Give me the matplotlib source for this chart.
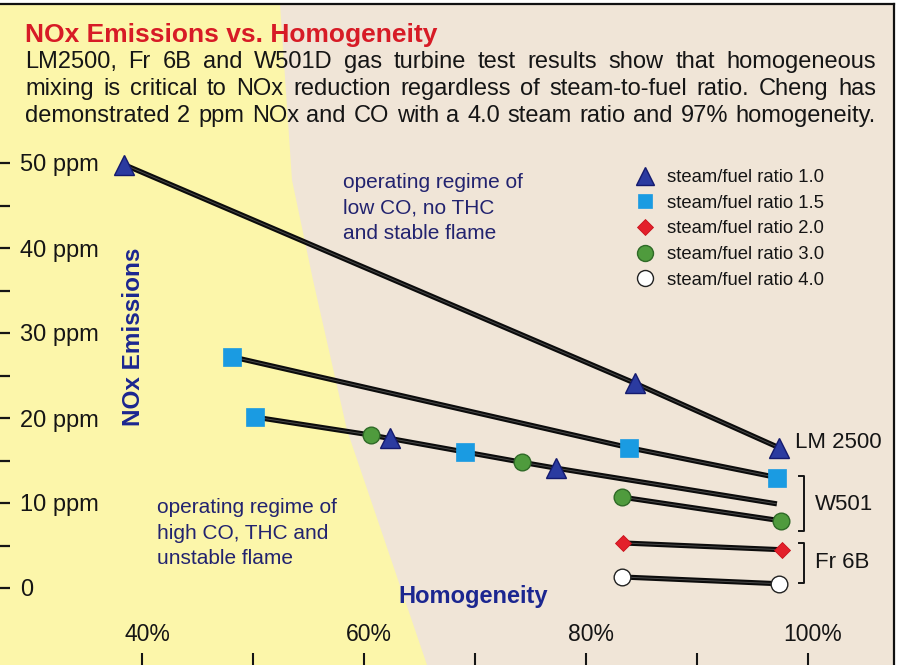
import matplotlib
matplotlib.use('Agg')
import matplotlib.pyplot as plt
from matplotlib.lines import Line2D
from matplotlib.patches import Polygon
from matplotlib.transforms import ScaledTranslation

plt.rcParams['font.family'] = ['Liberation Sans', 'DejaVu Sans']

# ---------------- data ----------------
ratios = [1.0, 1.5, 2.0, 3.0, 4.0]
ratio_labels = ['steam/fuel ratio 1.0', 'steam/fuel ratio 1.5', 'steam/fuel ratio 2.0',
                'steam/fuel ratio 3.0', 'steam/fuel ratio 4.0']

# LM2500 (steam/fuel 1.0)
lm_x = [38.4, 84.4, 97.4]
lm_y = [49.8, 24.1, 16.5]
lm_r = [1.0, 1.0, 1.0]
# upper W501 line (steam/fuel 1.5)
w1_x = [48.1, 83.9, 97.2]
w1_y = [27.2, 16.5, 13.0]
w1_r = [1.5, 1.5, 1.5]
# mixed test line
mix_x = [50.2, 60.6, 62.3, 69.1, 74.2, 77.3, 97.2]
mix_y = [20.1, 18.0, 17.6, 16.0, 14.8, 14.1, 9.9]
mix_r = [1.5, 3.0, 1.0, 1.5, 3.0, 1.0, None]
# lower W501 line (steam/fuel 3.0)
w2_x = [83.2, 97.6]
w2_y = [10.7, 7.9]
w2_r = [3.0, 3.0]
# Fr 6B (steam/fuel 2.0 and 4.0)
fr1_x = [83.3, 97.7]
fr1_y = [5.3, 4.5]
fr1_r = [2.0, 2.0]
fr2_x = [83.2, 97.4]
fr2_y = [1.3, 0.5]
fr2_r = [4.0, 4.0]

y_ticks = [0, 10, 20, 30, 40, 50]
y_ticklabels = ['0', '10 ppm', '20 ppm', '30 ppm', '40 ppm', '50 ppm']
y_minor = [5, 15, 25, 35, 45]
x_ticks = [40, 50, 60, 70, 80, 90, 100]
x_ticklabels = ['40%', '', '60%', '', '80%', '', '100%']

title = 'NOx Emissions vs. Homogeneity'
subtitle = ['LM2500, Fr 6B and W501D gas turbine test results show that homogeneous',
            'mixing is critical to NOx reduction regardless of steam-to-fuel ratio. Cheng has',
            'demonstrated 2 ppm NOx and CO with a 4.0 steam ratio and 97% homogeneity.']

# ---------------- layout helpers ----------------
W, H, DPI = 898, 665, 100
AX_L, AX_R, AX_T, AX_B = 0, 894, 4, 665
X0PX, XSCALE = 142, 11.1      # pixel of 40%, px per %
Y0PX, YSCALE = 588, 8.5       # pixel of 0 ppm, px per ppm

def axc(px, py):
    return ((px - AX_L) / (AX_R - AX_L), (AX_B - py) / (AX_B - AX_T))

def figc(px, py):
    return (px / W, 1 - py / H)

def dat(px, py):
    return (40 + (px - X0PX) / XSCALE, (Y0PX - py) / YSCALE)

BEIGE = '#F0E5D7'
YELLOW = '#FCF6AA'
NAVY = '#1B2690'
NAVY2 = '#22236F'
RED = '#D71B26'
INK = '#151515'

styles = {
    1.0: dict(marker='^', ms=14.5, mfc='#2B3BA0', mec='#141A6E', mew=1.0),
    1.5: dict(marker='s', ms=13, mfc='#1A9BE2', mec='#1A9BE2', mew=0.5),
    2.0: dict(marker='D', ms=8.5, mfc='#E3202B', mec='#C8101A', mew=0.6),
    3.0: dict(marker='o', ms=12, mfc='#4F9B3D', mec='#2F6A27', mew=1.0),
    4.0: dict(marker='o', ms=12, mfc='white', mec='#222222', mew=1.0),
}
legend_ms = {1.0: 12.5, 1.5: 10.5, 2.0: 8.0, 3.0: 11.5, 4.0: 11.5}

fig = plt.figure(figsize=(W / DPI, H / DPI), dpi=DPI, facecolor='white')
ax = fig.add_axes([AX_L / W, (H - AX_B) / H, (AX_R - AX_L) / W, (AX_B - AX_T) / H])
ax.set_facecolor(BEIGE)

xl, _ = dat(AX_L, 0)
xr, _ = dat(AX_R, 0)
_, yb = dat(0, AX_B)
_, yt = dat(0, AX_T)
ax.set_xlim(xl, xr)
ax.set_ylim(yb, yt)

# yellow "unstable" region
poly_px = [(0, 4), (280, 4), (292, 180), (313, 280), (347, 430), (427, 665), (0, 665)]
ax.add_patch(Polygon([axc(*p) for p in poly_px], closed=True, transform=ax.transAxes,
                     facecolor=YELLOW, edgecolor='none', zorder=0))

# spines as page border
for s in ['left', 'bottom']:
    ax.spines[s].set_visible(False)
for s in ['top', 'right']:
    ax.spines[s].set_color('#111111')
    ax.spines[s].set_linewidth(1.6)

# ticks
ax.set_yticks(y_ticks, y_ticklabels)
ax.set_yticks(y_minor, minor=True)
ax.set_xticks(x_ticks, x_ticklabels)
ax.tick_params(axis='y', which='both', direction='in', length=7, width=1.6, color=INK,
               pad=-14.4, labelsize=17, labelcolor=INK)
ax.tick_params(axis='x', which='both', direction='in', length=9, width=1.5, color=INK,
               pad=-30, labelsize=16.5, labelcolor=INK)
for lab in ax.get_yticklabels():
    lab.set_horizontalalignment('left')
shift = ScaledTranslation(5 / DPI, 0, fig.dpi_scale_trans)
for lab in ax.get_xticklabels():
    lab.set_transform(lab.get_transform() + shift)

# axis labels
ax.set_ylabel('NOx Emissions', fontsize=17.5, fontweight='bold', color=NAVY, va='baseline')
ax.yaxis.set_label_coords(*axc(140, 337))
ax.set_xlabel('Homogeneity', fontsize=17, fontweight='bold', color=NAVY, va='baseline')
ax.xaxis.set_label_coords(*axc(473, 603))

# connecting lines and markers
series = [(lm_x, lm_y, lm_r), (w1_x, w1_y, w1_r), (mix_x, mix_y, mix_r),
          (w2_x, w2_y, w2_r), (fr1_x, fr1_y, fr1_r), (fr2_x, fr2_y, fr2_r)]
for xs, ys, rs in series:
    ax.plot(xs, ys, color='#0c0c0c', lw=3.7, solid_capstyle='butt', zorder=2)
    ax.plot(xs, ys, color='#4a4a4a', lw=0.7, solid_capstyle='butt', zorder=2.1)

for r in ratios:
    px_, py_ = [], []
    for xs, ys, rs in series:
        for x, y, rr in zip(xs, ys, rs):
            if rr == r:
                px_.append(x)
                py_.append(y)
    ax.plot(px_, py_, linestyle='None', zorder=4, **styles[r])

# legend
handles = []
for r in ratios:
    st = dict(styles[r])
    st['ms'] = legend_ms[r]
    handles.append(Line2D([], [], linestyle='None', **st))
leg = ax.legend(handles, ratio_labels, loc='upper left', bbox_to_anchor=axc(636, 169),
                frameon=False, fontsize=13.3, handlelength=1.0, handletextpad=0.68,
                labelspacing=0.47, borderpad=0, borderaxespad=0)
for t in leg.get_texts():
    t.set_color(INK)

# region annotations (va='baseline' -> baseline of the last line)
ax.text(*axc(343, 239), 'operating regime of\nlow CO, no THC\nand stable flame',
        transform=ax.transAxes, fontsize=15, color=NAVY2, ha='left', va='baseline',
        linespacing=1.42, zorder=3)
ax.text(*axc(157, 564), 'operating regime of\nhigh CO, THC and\nunstable flame',
        transform=ax.transAxes, fontsize=15, color=NAVY2, ha='left', va='baseline',
        linespacing=1.42, zorder=3)

# engine labels and brackets
ax.text(*dat(795, 443), 'LM 2500', fontsize=16, color=INK, ha='left', va='center')
ax.text(*dat(815, 504), 'W501', fontsize=16, color=INK, ha='left', va='center')
ax.text(*dat(815, 563), 'Fr 6B', fontsize=16, color=INK, ha='left', va='center')
for top, bot in [(476, 531), (543, 583)]:
    pts = [dat(799, top), dat(804, top), dat(804, bot), dat(799, bot)]
    ax.plot([p[0] for p in pts], [p[1] for p in pts], color=INK, lw=1.4, zorder=3)

# title and justified subtitle
fig.text(*figc(25, 42), title, fontsize=19, fontweight='bold', color=RED,
         ha='left', va='baseline')
renderer = fig.canvas.get_renderer()
x_left, x_right = 25, 876
for line, base in zip(subtitle, [68, 95, 122]):
    words = line.split(' ')
    texts = [fig.text(0, 0, w, fontsize=17, color=INK, ha='left', va='baseline') for w in words]
    widths = [t.get_window_extent(renderer).width for t in texts]
    gap = (x_right - x_left - sum(widths)) / (len(words) - 1)
    x = x_left
    for t, w in zip(texts, widths):
        t.set_position(figc(x, base))
        x += w + gap

fig.savefig('out.png', dpi=DPI, facecolor=fig.get_facecolor())
